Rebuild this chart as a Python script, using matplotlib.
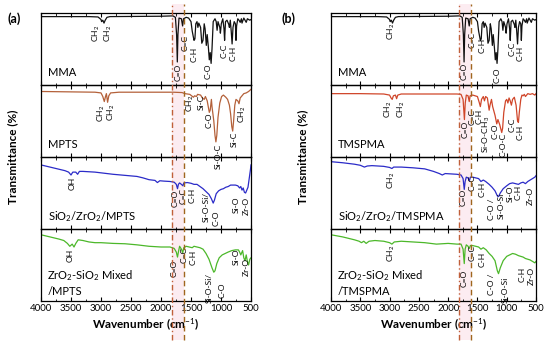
import matplotlib
matplotlib.use('Agg')
import matplotlib.pyplot as plt
from matplotlib.ticker import MultipleLocator
from matplotlib.transforms import blended_transform_factory
from matplotlib.lines import Line2D
from matplotlib.patches import Rectangle

plt.rcParams['font.family'] = ['Lato', 'DejaVu Sans']
plt.rcParams['mathtext.fontset'] = 'custom'
plt.rcParams['mathtext.rm'] = 'Lato'
plt.rcParams['mathtext.it'] = 'Lato:italic'
plt.rcParams['mathtext.bf'] = 'Lato:bold'

# ---------------- data (wavenumber, relative transmittance within its strip) -------------
mma = [(4000, 95), (3200, 95), (3050, 94.5), (3000, 91), (2990, 88), (2970, 90), (2950, 86),
       (2930, 90), (2900, 94), (2850, 95), (2000, 95.5), (1800, 96), (1760, 94), (1740, 70),
       (1728, 32), (1718, 70), (1700, 93), (1660, 92), (1640, 82), (1625, 92), (1580, 94),
       (1540, 93), (1500, 88), (1480, 75), (1450, 62), (1435, 64), (1420, 85), (1400, 88),
       (1385, 80), (1370, 86), (1340, 80), (1320, 58), (1300, 62), (1280, 85), (1265, 78),
       (1245, 55), (1230, 70), (1210, 52), (1195, 35), (1180, 45), (1165, 30), (1150, 50),
       (1130, 88), (1100, 92), (1080, 88), (1065, 76), (1050, 88), (1020, 80), (1010, 72),
       (995, 85), (970, 92), (950, 78), (940, 62), (925, 88), (900, 90), (870, 84), (860, 80),
       (845, 90), (830, 75), (815, 57), (800, 80), (780, 88), (760, 85), (750, 62), (740, 82),
       (720, 92), (700, 90), (680, 87), (660, 92), (650, 86), (620, 93), (600, 90), (580, 87),
       (560, 92), (520, 90), (500, 91)]

mpts = [(4000, 91), (3100, 90), (3000, 89), (2970, 84), (2945, 77), (2925, 84), (2910, 88),
        (2890, 76), (2870, 85), (2840, 89), (2700, 90), (2000, 90), (1800, 90), (1650, 89.5),
        (1600, 88), (1520, 87), (1460, 83), (1440, 85), (1410, 84), (1390, 87), (1340, 86),
        (1310, 82), (1280, 80), (1260, 84), (1230, 78), (1195, 62), (1180, 65), (1160, 80),
        (1150, 70), (1120, 50), (1100, 30), (1085, 21), (1070, 30), (1050, 55), (1020, 75),
        (990, 84), (960, 86), (920, 83), (890, 80), (860, 72), (840, 60), (820, 42), (805, 36),
        (790, 50), (770, 72), (750, 80), (720, 78), (700, 74), (680, 82), (650, 85), (620, 88),
        (580, 89), (540, 91), (500, 94)]

szm = [(4000, 89), (3900, 87), (3800, 85), (3700, 83), (3600, 81), (3540, 79), (3500, 75),
       (3470, 79), (3420, 79), (3390, 76), (3360, 80), (3300, 80), (3200, 79.5), (3100, 79),
       (3000, 78), (2900, 77), (2800, 76), (2600, 74.5), (2400, 73), (2300, 71), (2200, 68.5),
       (2100, 67.5), (2060, 64.5), (2020, 67), (1950, 66.5), (1850, 66), (1780, 65), (1745, 62),
       (1725, 56), (1710, 62), (1690, 64), (1660, 62), (1635, 60), (1620, 64), (1560, 64.5),
       (1500, 63.5), (1450, 62), (1400, 62), (1350, 59), (1300, 56), (1250, 52), (1200, 48),
       (1160, 42), (1130, 36), (1110, 40), (1080, 49), (1040, 53), (1000, 55), (960, 56),
       (920, 58), (880, 59), (840, 61), (800, 61), (760, 61), (720, 60), (690, 57), (670, 59),
       (650, 54), (630, 57), (610, 51), (590, 50), (570, 54), (550, 58), (530, 70), (510, 82),
       (500, 89)]

zsm = [(4000, 92), (3900, 90), (3800, 88), (3700, 86), (3620, 84), (3560, 80), (3520, 76),
       (3480, 79), (3450, 75), (3420, 80), (3380, 85), (3300, 84), (3200, 82), (3100, 81),
       (3000, 81), (2800, 80), (2600, 79.5), (2400, 78), (2200, 76), (2000, 75), (1850, 75),
       (1780, 73), (1745, 68), (1725, 61), (1710, 68), (1690, 76), (1660, 72), (1638, 67),
       (1620, 74), (1580, 76), (1530, 75), (1480, 74), (1450, 76), (1400, 75), (1350, 74),
       (1300, 72), (1250, 66), (1200, 58), (1150, 46), (1120, 40), (1100, 42), (1070, 52),
       (1030, 60), (980, 64), (930, 66), (880, 68), (820, 70), (760, 71), (710, 71), (690, 68),
       (670, 64), (640, 70), (620, 60), (600, 56), (580, 64), (560, 55), (540, 50), (520, 58),
       (500, 60)]

tmspma = [(4000, 88), (3500, 88), (3100, 87.5), (3000, 86), (2975, 82), (2955, 80), (2935, 85),
          (2900, 86), (2880, 81), (2860, 86), (2800, 87.5), (2200, 87.5), (1850, 87.5),
          (1780, 87), (1745, 80), (1722, 52), (1708, 75), (1690, 86), (1660, 85), (1640, 77),
          (1625, 85), (1580, 86), (1500, 84), (1470, 76), (1450, 70), (1430, 80), (1400, 84),
          (1380, 78), (1360, 84), (1330, 82), (1300, 65), (1285, 72), (1260, 80), (1240, 70),
          (1200, 58), (1170, 46), (1150, 52), (1120, 45), (1085, 34), (1070, 40), (1050, 62),
          (1020, 78), (1000, 80), (980, 75), (960, 82), (940, 78), (920, 72), (900, 80),
          (870, 83), (840, 72), (815, 50), (800, 48), (785, 62), (760, 80), (740, 86), (720, 85),
          (700, 87), (680, 84), (660, 86), (640, 88), (600, 87), (560, 88), (520, 86), (500, 88)]

szt = [(4000, 93.5), (3800, 92), (3600, 90), (3500, 88.5), (3430, 86), (3380, 87.5), (3300, 88),
       (3100, 87), (3000, 85.5), (2960, 84), (2930, 86), (2800, 86), (2600, 85), (2400, 83.5),
       (2250, 80), (2150, 77), (2100, 75), (2050, 77), (1950, 76.5), (1850, 76), (1780, 75),
       (1745, 70), (1725, 55), (1710, 66), (1690, 72), (1660, 71), (1638, 67), (1620, 72),
       (1580, 72), (1530, 71), (1480, 70), (1440, 66), (1400, 68), (1360, 66), (1300, 62),
       (1250, 58), (1200, 53), (1160, 46), (1140, 45), (1110, 50), (1060, 56), (1000, 60),
       (950, 63), (900, 64), (850, 63), (800, 62), (760, 64), (720, 65), (680, 63), (640, 66),
       (600, 68), (560, 70), (520, 72), (500, 74)]

zst = [(4000, 92), (3800, 89), (3600, 85), (3520, 83), (3480, 81), (3440, 83), (3400, 80),
       (3350, 83), (3250, 84), (3100, 83), (3000, 81), (2960, 79), (2920, 82), (2800, 83),
       (2600, 82), (2400, 81), (2200, 79), (2000, 80), (1850, 79), (1780, 79), (1745, 72),
       (1725, 52), (1710, 72), (1690, 78), (1660, 76), (1638, 73), (1620, 77), (1580, 77),
       (1530, 76), (1480, 75), (1440, 72), (1400, 74), (1350, 71), (1300, 66), (1250, 62),
       (1200, 56), (1160, 42), (1140, 38), (1110, 46), (1060, 56), (1000, 62), (950, 64),
       (900, 66), (850, 65), (800, 63), (760, 62), (720, 61), (680, 59), (640, 58), (600, 57),
       (560, 55), (520, 53), (500, 55)]

# band labels: (text, wavenumber, top of text in strip units)
lab_mma_a = [("CH$_2$", 3080, 84), ("CH$_2$", 2880, 84), ("C=O", 1722, 30), ("C=C", 1595, 70),
             ("C-H", 1455, 53), ("C-O", 1215, 30), ("C-C", 950, 58), ("C-H", 800, 55)]
lab_mpts = [("CH$_2$", 3000, 72), ("CH$_2$", 2830, 74), ("CH$_2$", 1505, 87), ("Si-C", 1337, 87),
            ("C-O", 1204, 62), ("Si-O-C", 1040, 19), ("Si-C", 775, 35), ("CH$_2$", 640, 71)]
lab_szm = [("OH", 3486, 73), ("C=O", 1770, 54), ("C=C", 1627, 57), ("C-H", 1477, 57),
           ("Si-O-Si/", 1253, 52), ("C-O", 1086, 26), ("Si-O", 751, 45), ("Zr-O", 584, 45)]
lab_zsm = [("OH", 3514, 73), ("C=O", 1773, 57), ("C=C", 1622, 75), ("C-H", 1460, 71),
           ("Si-O-Si/", 1203, 39), ("C-O", 975, 25), ("Si-O", 751, 73), ("Zr-O", 584, 60)]
lab_mma_b = [("CH$_2$", 2964, 86), ("C=O", 1724, 31), ("C=C", 1598, 74), ("C-H", 1417, 66),
             ("C-O", 1172, 24), ("C-C", 915, 60), ("C-H", 773, 55)]
lab_tms = [("CH$_2$", 3020, 78), ("CH$_2$", 2800, 78), ("C=O", 1713, 51), ("C=C", 1598, 67),
           ("C-H", 1475, 67), ("Si-O-CH$_3$", 1345, 57), ("C-O", 1205, 46), ("C-O-C", 1065, 33),
           ("C-C", 910, 55), ("C-H", 773, 44)]
lab_szt = [("CH$_2$", 2964, 80), ("C=O", 1741, 56), ("C=C", 1598, 75), ("C-H", 1428, 66),
           ("C-O /", 1257, 43), ("Si-O-Si", 1086, 50), ("Si-O", 945, 61), ("C-H", 805, 61),
           ("Zr-O", 603, 59)]
lab_zst = [("CH$_2$", 2964, 78), ("C=O", 1724, 43), ("C=C", 1598, 78), ("C-H", 1428, 68),
           ("C-O /", 1257, 38), ("Si-O-Si", 1030, 34), ("C-H", 745, 48), ("Zr-O", 574, 48)]

names_a = ["MMA", "MPTS", "SiO$_2$/ZrO$_2$/MPTS", "ZrO$_2$-SiO$_2$ Mixed\n/MPTS"]
names_b = ["MMA", "TMSPMA", "SiO$_2$/ZrO$_2$/TMSPMA", "ZrO$_2$-SiO$_2$ Mixed\n/TMSPMA"]
xticks = [4000, 3500, 3000, 2500, 2000, 1500, 1000, 500]
band_a = (1820, 1625)
band_b = (1810, 1610)

# ---------------- layout ----------------
W, H = 550, 347
fig = plt.figure(figsize=(W / 100, H / 100), dpi=100)
top_px, strip_px = 13, 72

colors = ['#111111', '#b4613a', '#2b2bc8', '#4cb82a']
colors_b = ['#111111', '#d0462a', '#2b2bc8', '#4cb82a']

def make_panel(left_px, width_px, spectra, cols, labels, names, band, letter, letter_px):
    axes = []
    for i in range(4):
        bottom = 1 - (top_px + (i + 1) * strip_px) / H
        ax = fig.add_axes([left_px / W, bottom, width_px / W, strip_px / H])
        ax.patch.set_alpha(0)
        wn, tr = zip(*spectra[i])
        ax.plot(wn, tr, color=cols[i], lw=0.9)
        ax.set_xlim(4000, 500)
        ax.set_ylim(0, 100)
        ax.set_yticks([])
        ax.set_xticks(xticks)
        ax.xaxis.set_minor_locator(MultipleLocator(250))
        ax.tick_params(axis='x', which='both', direction='in', top=True, bottom=True)
        ax.tick_params(axis='x', which='major', length=3, width=0.8, labelsize=7, pad=2)
        ax.tick_params(axis='x', which='minor', length=1.8, width=0.6)
        if i < 3:
            ax.tick_params(axis='x', labelbottom=False)
        for s in ax.spines.values():
            s.set_linewidth(0.9)
        for txt, w, y in labels[i]:
            ax.text(w, y, txt, rotation=90, ha='center', va='top', fontsize=6.1,
                    clip_on=False)
        if '\n' in names[i]:
            ax.text(0.03, 0.26, names[i], transform=ax.transAxes, fontsize=8,
                    ha='left', va='center', linespacing=1.3)
        else:
            ax.text(0.035, 0.17, names[i], transform=ax.transAxes, fontsize=8,
                    ha='left', va='center')
        axes.append(ax)
    axes[-1].set_xlabel("Wavenumber (cm$^{-1}$)", fontsize=8.5, fontweight='bold', labelpad=3)
    tr = blended_transform_factory(axes[0].transData, fig.transFigure)
    y0, y1 = 1 - 340 / H, 1 - 4 / H
    fig.add_artist(Rectangle((band[1], y0), band[0] - band[1], y1 - y0, transform=tr,
                             facecolor='#f9d6e2', edgecolor='none', alpha=0.45, zorder=0))
    fig.add_artist(Line2D([band[0], band[0]], [y0, y1], transform=tr, color='#c0603a',
                          lw=1.0, ls=(0, (4, 2, 1, 2)), zorder=5))
    fig.add_artist(Line2D([band[1], band[1]], [y0, y1], transform=tr, color='#a0661e',
                          lw=1.0, ls=(0, (4, 2.5)), zorder=5))
    fig.text(letter_px[0] / W, 1 - letter_px[1] / H, letter, fontsize=9, fontweight='bold',
             ha='center', va='center')
    fig.text((left_px - 28) / W, 1 - (top_px + 2 * strip_px) / H, "Transmittance (%)",
             rotation=90, fontsize=8.5, fontweight='bold', ha='center', va='center')
    return axes

make_panel(41, 210, [mma, mpts, szm, zsm], colors,
           [lab_mma_a, lab_mpts, lab_szm, lab_zsm], names_a, band_a, "(a)", (14, 19))
make_panel(331, 205, [mma, tmspma, szt, zst], colors_b,
           [lab_mma_b, lab_tms, lab_szt, lab_zst], names_b, band_b, "(b)", (288, 19))

fig.savefig("out.png", dpi=100)
